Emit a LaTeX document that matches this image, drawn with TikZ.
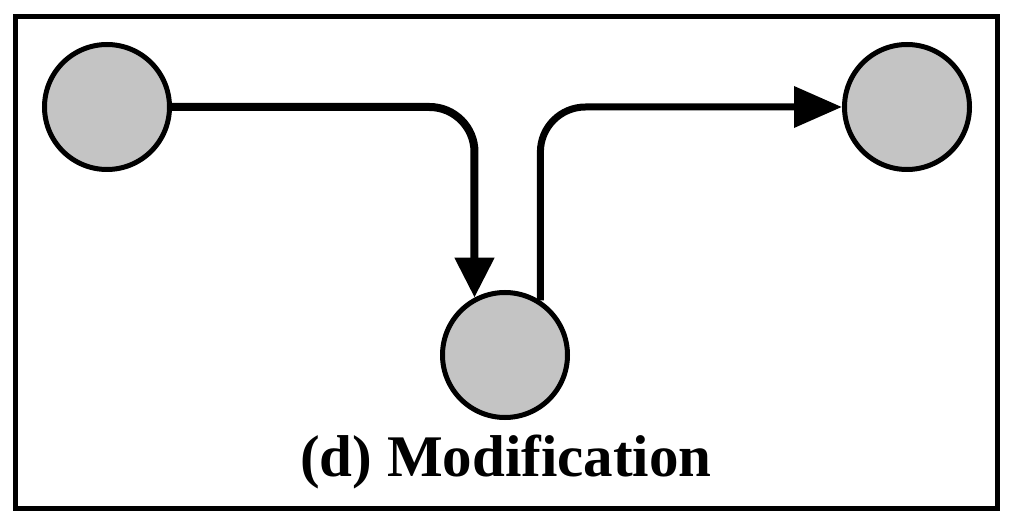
\documentclass[tikz,border=0pt]{standalone}
\usepackage{fontspec}
\setmainfont{Liberation Serif}
\usetikzlibrary{arrows.meta}
\definecolor{circgray}{RGB}{196,196,196}

\begin{document}
\begin{tikzpicture}[x=1pt, y=-1pt,
  circ/.style={draw, circle, fill=circgray, line width=5pt, inner sep=0pt, minimum size=125pt},
  arrA/.style={-{Triangle[length=40pt, width=38pt]}, line width=8pt, rounded corners=45pt},
  arrB/.style={-{Triangle[length=48pt, width=40pt]}, line width=7pt, rounded corners=45pt}
]
\useasboundingbox (0,0) rectangle (1013,529);
\draw[line width=5pt] (15.5,16.5) rectangle (997,508.5);

\node[circ] (left) at (107,107) {};
\node[circ] (right) at (907,107) {};
\node[circ] (bottom) at (505,355) {};

\node[anchor=base, inner sep=0pt, font=\fontsize{59}{70}\selectfont\bfseries] (caption) at (506,477) {(d) Modification};

\draw[arrA] (left) -| (bottom.118);
\draw[arrB] (bottom.57) |- (right);
\end{tikzpicture}
\end{document}
